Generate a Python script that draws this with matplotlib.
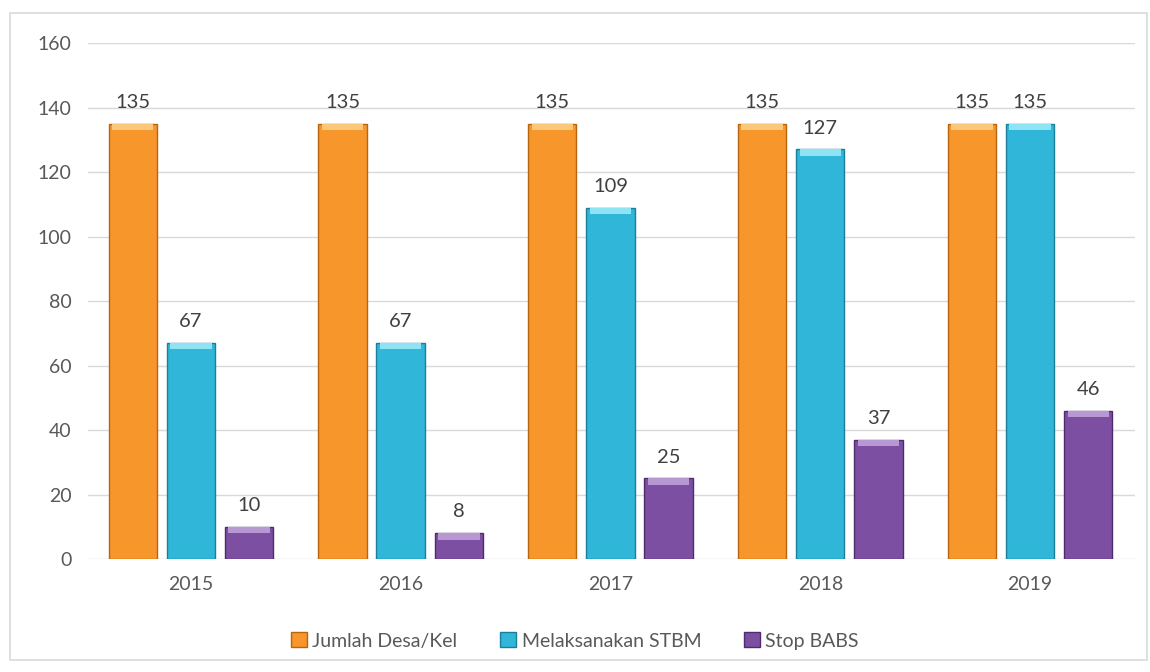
import numpy as np
import matplotlib.pyplot as plt
from matplotlib.patches import Rectangle

years = ['2015', '2016', '2017', '2018', '2019']
jumlah_desa = [135, 135, 135, 135, 135]
melaksanakan_stbm = [67, 67, 109, 127, 135]
stop_babs = [10, 8, 25, 37, 46]

series = [
    ('Jumlah Desa/Kel', jumlah_desa, '#F7962B', '#B8650F', '#FBC77A'),
    ('Melaksanakan STBM', melaksanakan_stbm, '#2FB6D8', '#1C7F99', '#8EE3F5'),
    ('Stop BABS', stop_babs, '#7D4FA3', '#4E2C6B', '#B898D3'),
]

plt.rcParams['font.family'] = ['Lato', 'DejaVu Sans']

fig = plt.figure(figsize=(11.5, 6.72), dpi=100)
fig.patches.append(Rectangle((10 / 1150, 12 / 672), 1137 / 1150, 647 / 672,
                             transform=fig.transFigure, fill=False,
                             edgecolor='#D9D9D9', linewidth=1.2))
ax = fig.add_axes([0.0765, 0.168, 0.9105, 0.768])

x = np.arange(len(years))
width = 0.23
offset = 0.277

handles = []
for i, (name, vals, color, edge, light) in enumerate(series):
    pos = x + (i - 1) * offset
    bars = ax.bar(pos, vals, width, color=color, edgecolor=edge, linewidth=1.0, zorder=3)
    # bevel highlight along the top of each bar
    cap = [min(2.0, v * 0.5) for v in vals]
    ax.bar(pos, cap, width * 0.86, bottom=[v - c for v, c in zip(vals, cap)],
           color=light, linewidth=0, zorder=4)
    handles.append(bars)
    for p, v in zip(pos, vals):
        ax.text(p, v + 4, str(v), ha='center', va='bottom', fontsize=14.5, color='#404040')

ax.set_ylim(0, 160)
ax.set_yticks(range(0, 161, 20))
ax.set_xlim(-0.49, 4.5)
ax.set_xticks(x)
ax.set_xticklabels(years)
ax.tick_params(axis='both', length=0, labelsize=14, colors='#595959', pad=12)
ax.grid(axis='y', color='#D9D9D9', linewidth=1.0, zorder=0)
for s in ax.spines.values():
    s.set_visible(False)

fig.legend(handles, [s[0] for s in series], loc='center', bbox_to_anchor=(0.5, 0.046),
           ncol=3, frameon=False, fontsize=14, handlelength=0.8, handleheight=0.8,
           handletextpad=0.3, columnspacing=2.2, labelcolor='#595959')

fig.savefig('out.png', dpi=100)
